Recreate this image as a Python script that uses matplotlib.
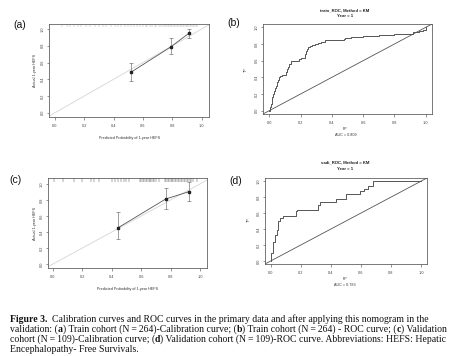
import matplotlib
matplotlib.use('Agg')
import matplotlib.pyplot as plt

W, H = 456, 356

# ---------------- data ----------------
ticks = [0.0, 0.2, 0.4, 0.6, 0.8, 1.0]
tick_labels = ["0.0", "0.2", "0.4", "0.6", "0.8", "1.0"]

cal_a_pred = [0.519, 0.789, 0.912]
cal_a_obs = [0.485, 0.786, 0.948]
cal_a_lo = [0.38, 0.70, 0.896]
cal_a_hi = [0.60, 0.89, 1.005]
rug_a = [0.05, 0.08, 0.10, 0.13, 0.16, 0.18, 0.21, 0.24, 0.27, 0.30, 0.33, 0.35,
         0.38, 0.41, 0.43, 0.45, 0.48, 0.50, 0.52, 0.54, 0.56, 0.58, 0.60, 0.62,
         0.63, 0.65, 0.66, 0.68, 0.69, 0.71, 0.72, 0.74, 0.75, 0.76, 0.77, 0.78,
         0.79, 0.80, 0.81, 0.82, 0.83, 0.84, 0.85, 0.86, 0.87, 0.88, 0.89, 0.90,
         0.91, 0.92, 0.93, 0.94, 0.95, 0.96, 0.97]

cal_c_pred = [0.444, 0.767, 0.925]
cal_c_obs = [0.454, 0.8125, 0.904]
cal_c_lo = [0.309, 0.683, 0.79]
cal_c_hi = [0.654, 0.954, 1.02]
rug_c = [0.01, 0.07, 0.14, 0.20, 0.26, 0.28, 0.31, 0.40, 0.42, 0.44, 0.46, 0.48,
         0.50, 0.52, 0.59, 0.60, 0.61, 0.62, 0.63, 0.64, 0.65, 0.66, 0.67, 0.68,
         0.69, 0.70, 0.72, 0.76, 0.77, 0.78, 0.79, 0.80, 0.81, 0.82, 0.83, 0.84,
         0.85, 0.86, 0.87, 0.88, 0.89, 0.90, 0.91, 0.92, 0.93, 0.94, 0.95, 0.98]

roc_b_fp = [0.0, 0.005, 0.01, 0.015, 0.02, 0.025, 0.03, 0.035, 0.042, 0.048, 0.055,
            0.062, 0.07, 0.08, 0.105, 0.112, 0.12, 0.127, 0.136, 0.19, 0.2, 0.228,
            0.233, 0.24, 0.25, 0.262, 0.275, 0.29, 0.31, 0.33, 0.357, 0.475, 0.485,
            0.52, 0.56, 0.6, 0.7, 0.8, 0.88, 0.92, 0.96, 0.98, 1.0]
roc_b_tp = [0.0, 0.04, 0.08, 0.12, 0.16, 0.2, 0.24, 0.27, 0.3, 0.34, 0.37,
            0.4, 0.42, 0.43, 0.47, 0.5, 0.53, 0.56, 0.6, 0.62, 0.635, 0.68,
            0.72, 0.74, 0.76, 0.775, 0.785, 0.8, 0.815, 0.83, 0.843, 0.865, 0.875,
            0.88, 0.89, 0.9, 0.91, 0.915, 0.925, 0.94, 0.955, 0.97, 1.0]

roc_d_fp = [0.0, 0.0, 0.011, 0.027, 0.038, 0.049, 0.06, 0.082, 0.17, 0.175, 0.315,
            0.326, 0.435, 0.497, 0.592, 0.62, 0.647, 0.68, 1.0]
roc_d_tp = [0.0, 0.093, 0.233, 0.326, 0.389, 0.494, 0.536, 0.569, 0.62, 0.636, 0.70,
            0.737, 0.78, 0.838, 0.872, 0.905, 0.934, 1.0, 1.0]

auc_b = "0.809"
auc_d = "0.783"
title_b = "train_ROC, Method = KM"
title_d = "vadi_ROC, Method = KM"
year_txt = "Year = 1"
cal_xlabel = "Predicted Probability of 1-year HEFS"
cal_ylabel = "Actual 1-year HEFS"

caption = [
    [("Figure 3.", True), ("  Calibration curves and ROC curves in the primary data and after applying this nomogram in the", False)],
    [("validation: (", False), ("a", True), (") Train cohort (N\u2009=\u2009264)-Calibration curve; (", False), ("b", True),
     (") Train cohort (N\u2009=\u2009264) - ROC curve; (", False), ("c", True), (") Validation", False)],
    [("cohort (N\u2009=\u2009109)-Calibration curve; (", False), ("d", True),
     (") Validation cohort (N\u2009=\u2009109)-ROC curve. Abbreviations: HEFS: Hepatic", False)],
    [("Encephalopathy- Free Survivals.", False)],
]

# ---------------- figure ----------------
plt.rcParams['font.family'] = ['Liberation Sans', 'DejaVu Sans']
fig = plt.figure(figsize=(W / 100, H / 100), dpi=100)
fig.patch.set_facecolor('white')


def P(x, y):
    return x / W, 1 - y / H


def add_ax(l, t, r, b):
    return fig.add_axes([l / W, 1 - b / H, (r - l) / W, (b - t) / H])


def style(ax, xlim, ylim):
    ax.set_xlim(*xlim)
    ax.set_ylim(*ylim)
    ax.set_xticks(ticks)
    ax.set_xticklabels(tick_labels)
    ax.set_yticks(ticks)
    ax.set_yticklabels(tick_labels, rotation=90, va='center')
    ax.tick_params(length=1.8, width=0.4, labelsize=2.8,
                   colors='#444444', direction='out')
    ax.tick_params(axis='x', pad=3.4)
    ax.tick_params(axis='y', pad=1.3)
    for s in ax.spines.values():
        s.set_linewidth(0.55)
        s.set_color('#555555')


def calib(ax, pred, obs, lo, hi, rug, rugcol, ylim):
    ax.axline((0, 0), (1, 1), color='#d5d5d5', lw=0.6, zorder=1)
    ax.plot(pred, obs, color='#555555', lw=0.6, zorder=2)
    yerr = [[o - l for o, l in zip(obs, lo)], [h - o for o, h in zip(obs, hi)]]
    ax.errorbar(pred, obs, yerr=yerr, fmt='s', ms=1.6, color='#222222',
                ecolor='#777777', elinewidth=0.5, capsize=1.2, capthick=0.5, zorder=3)
    ax.vlines(rug, 1.02, ylim[1], color=rugcol, lw=0.35, zorder=2)


def roc(ax, fp, tp):
    ax.axline((0, 0), (1, 1), color='#555555', lw=0.6)
    ax.plot(fp, tp, drawstyle='steps-post', color='#555555', lw=0.7)


# (a)
ax_a = add_ax(49, 24, 209, 117)
ylim_a = (-0.05, 1.06)
style(ax_a, (-0.04, 1.05), ylim_a)
calib(ax_a, cal_a_pred, cal_a_obs, cal_a_lo, cal_a_hi, rug_a, '#b0b0b0', ylim_a)

# (b)
ax_b = add_ax(263, 24, 432, 114)
style(ax_b, (-0.04, 1.04), (-0.04, 1.04))
roc(ax_b, roc_b_fp, roc_b_tp)

# (c)
ax_c = add_ax(48, 178, 207, 268)
ylim_c = (-0.05, 1.075)
style(ax_c, (-0.034, 1.048), ylim_c)
calib(ax_c, cal_c_pred, cal_c_obs, cal_c_lo, cal_c_hi, rug_c, '#555555', ylim_c)

# (d)
ax_d = add_ax(265, 178, 427, 264)
style(ax_d, (-0.04, 1.04), (-0.04, 1.04))
roc(ax_d, roc_d_fp, roc_d_tp)

# axis labels / titles
lab = dict(fontsize=2.7, color='#333333', ha='center', va='center')
fig.text(*P(35, 70), cal_ylabel, rotation=90, **lab)
fig.text(*P(130, 138), cal_xlabel, **lab)
fig.text(*P(35, 223), cal_ylabel, rotation=90, **lab)
fig.text(*P(128, 289), cal_xlabel, **lab)

fig.text(*P(246, 70), "TP", rotation=90, **lab)
fig.text(*P(345.5, 128.5), "FP", **lab)
fig.text(*P(345.5, 135), "AUC = " + auc_b, **lab)
fig.text(*P(248.5, 220), "TP", rotation=90, **lab)
fig.text(*P(345, 278.5), "FP", **lab)
fig.text(*P(345, 285.5), "AUC = " + auc_d, **lab)

tit = dict(fontsize=3.1, color='#222222', ha='center', va='center', fontweight='bold')
fig.text(*P(345, 10), title_b, **tit)
fig.text(*P(345, 15.8), year_txt, **tit)
fig.text(*P(345, 162.5), title_d, **tit)
fig.text(*P(345, 168.5), year_txt, **tit)

pl = dict(fontsize=7.5, color='#111111', ha='center', va='center')
fig.text(*P(20, 25), "(a)", **pl)
fig.text(*P(233.5, 23), "(b)", **pl)
fig.text(*P(15.5, 180), "(c)", **pl)
fig.text(*P(235.5, 181), "(d)", **pl)

# ---------------- caption ----------------
renderer = fig.canvas.get_renderer()
SERIF = ['Liberation Serif', 'DejaVu Serif']


def measure(s, fs, bold):
    t = fig.text(0, 0, s, fontsize=fs, family=SERIF,
                 fontweight='bold' if bold else 'normal')
    w = t.get_window_extent(renderer).width
    t.remove()
    return w


def advance(s, fs, bold):
    # width including trailing spaces, via a marker glyph
    return measure(s + "|", fs, bold) - measure("|", fs, bold)


def layout_line(segs, fs, x0, yb, draw):
    x = x0
    for text, bold in segs:
        if draw:
            fig.text(x / W, 1 - yb / H, text, fontsize=fs, family=SERIF,
                     fontweight='bold' if bold else 'normal',
                     ha='left', va='baseline', color='#111111')
        x += advance(text, fs, bold)
    return x - x0


fs0 = 10.0
w2 = layout_line(caption[1], fs0, 10, 0, False)
fs = fs0 * 436.0 / w2
baselines = [321.5, 331.5, 341.5, 351.5]
for segs, yb in zip(caption, baselines):
    layout_line(segs, fs, 10, yb, True)

fig.savefig('out.png', dpi=100, facecolor='white')
